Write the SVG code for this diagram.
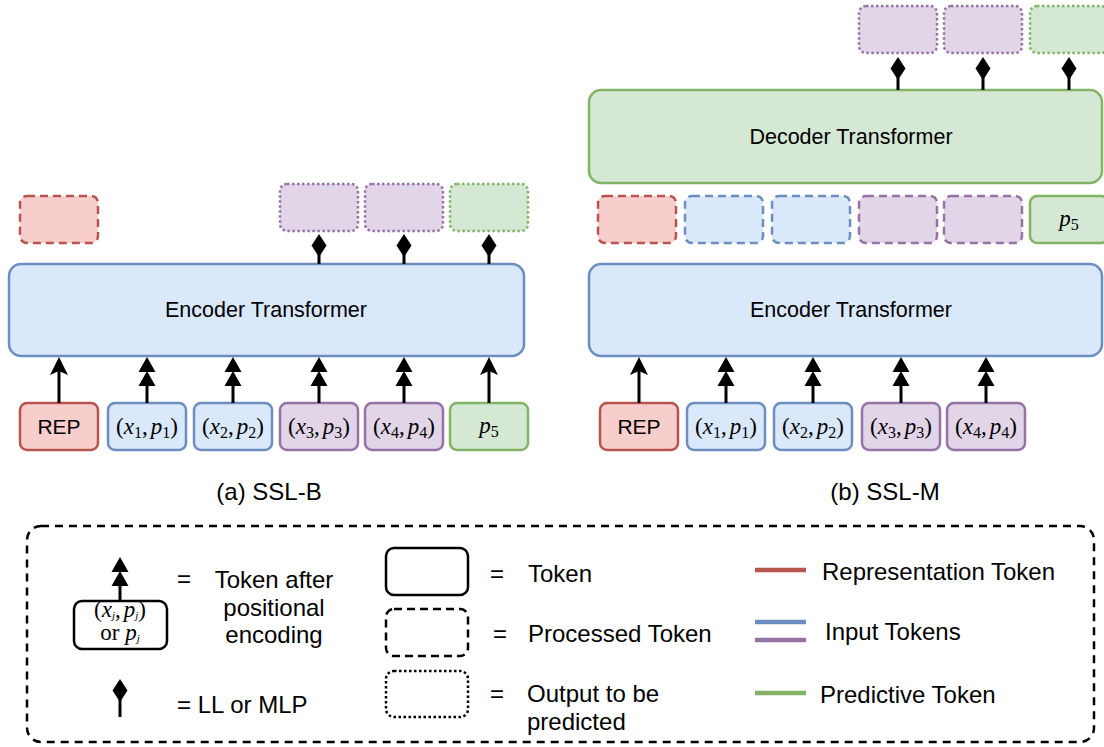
<svg xmlns="http://www.w3.org/2000/svg" width="1104" height="747" viewBox="0 0 1104 747">
  <style>
    .sans { font-family: "Liberation Sans", Arial, sans-serif; fill: #000; }
    .math { font-family: "Liberation Serif", "Times New Roman", serif; fill: #000; font-size: 23px; }
    .it { font-style: italic; }
    .sub { font-size: 16px; }
    .tok { stroke-width: 2.5; }
    .red { fill: #f8cecc; stroke: #b85450; }
    .blue { fill: #dae8fc; stroke: #6c8ebf; }
    .purple { fill: #e1d5e7; stroke: #9673a6; }
    .green { fill: #d5e8d4; stroke: #82b366; }
    .dash { stroke-dasharray: 8 5; }
    .dot { stroke-dasharray: 2.5 2.5; }
    .wire { stroke: #000; stroke-width: 3; fill: none; }
    .legendline { stroke-width: 4.5; }
  </style>
  <defs>
    <!-- single classic arrowhead, tip at origin pointing up -->
    <path id="head1" d="M0,0 L9,18 L0,14 L-9,18 Z" fill="#000"/>
    <!-- stacked double arrowhead -->
    <path id="head2" d="M0,0 L8.5,15 L-8.5,15 Z M0,14 L8.5,29 L-8.5,29 Z" fill="#000"/>
    <!-- diamond head -->
    <path id="dia" d="M0,0 L7.5,11.5 L0,23 L-7.5,11.5 Z" fill="#000"/>
  </defs>

  <!-- ===== (a) SSL-B ===== -->
  <g id="a-encoder">
    <rect x="9" y="264" width="515" height="92" rx="12" class="tok blue"/>
    <text x="266" y="317" class="sans" font-size="21.5" text-anchor="middle">Encoder Transformer</text>
  </g>
  <g id="a-rep-out"><rect x="20" y="196" width="78" height="47" rx="7" class="tok red dash"/></g>
  <g id="a-out3"><rect x="280" y="184" width="78" height="47" rx="7" class="tok purple dot"/></g>
  <g id="a-out4"><rect x="365" y="184" width="78" height="47" rx="7" class="tok purple dot"/></g>
  <g id="a-out5"><rect x="450" y="184" width="78" height="47" rx="7" class="tok green dot"/></g>

  <g id="a-rep">
    <rect x="20" y="403" width="78" height="47" rx="7" class="tok red"/>
    <text x="59" y="434" class="sans" font-size="21" text-anchor="middle">REP</text>
  </g>
  <g id="a-t1">
    <rect x="108" y="403" width="78" height="47" rx="7" class="tok blue"/>
    <text x="147" y="434" class="math" text-anchor="middle">(<tspan class="it">x</tspan><tspan class="sub" dy="4">1</tspan><tspan dy="-4">,</tspan><tspan class="it" dx="3">p</tspan><tspan class="sub" dy="4">1</tspan><tspan dy="-4">)</tspan></text>
  </g>
  <g id="a-t2">
    <rect x="194" y="403" width="78" height="47" rx="7" class="tok blue"/>
    <text x="233" y="434" class="math" text-anchor="middle">(<tspan class="it">x</tspan><tspan class="sub" dy="4">2</tspan><tspan dy="-4">,</tspan><tspan class="it" dx="3">p</tspan><tspan class="sub" dy="4">2</tspan><tspan dy="-4">)</tspan></text>
  </g>
  <g id="a-t3">
    <rect x="280" y="403" width="78" height="47" rx="7" class="tok purple"/>
    <text x="319" y="434" class="math" text-anchor="middle">(<tspan class="it">x</tspan><tspan class="sub" dy="4">3</tspan><tspan dy="-4">,</tspan><tspan class="it" dx="3">p</tspan><tspan class="sub" dy="4">3</tspan><tspan dy="-4">)</tspan></text>
  </g>
  <g id="a-t4">
    <rect x="365" y="403" width="78" height="47" rx="7" class="tok purple"/>
    <text x="404" y="434" class="math" text-anchor="middle">(<tspan class="it">x</tspan><tspan class="sub" dy="4">4</tspan><tspan dy="-4">,</tspan><tspan class="it" dx="3">p</tspan><tspan class="sub" dy="4">4</tspan><tspan dy="-4">)</tspan></text>
  </g>
  <g id="a-t5">
    <rect x="450" y="403" width="78" height="47" rx="7" class="tok green"/>
    <text x="489" y="433" class="math" text-anchor="middle"><tspan class="it">p</tspan><tspan class="sub" dy="4">5</tspan></text>
  </g>
  <text id="a-caption" x="269" y="500" class="sans" font-size="24" text-anchor="middle">(a) SSL-B</text>

  <!-- ===== (b) SSL-M ===== -->
  <g id="b-decoder">
    <rect x="589" y="90" width="513" height="93" rx="12" class="tok green"/>
    <text x="851" y="144" class="sans" font-size="21.5" text-anchor="middle">Decoder Transformer</text>
  </g>
  <g id="b-out3"><rect x="859" y="6" width="78" height="47" rx="7" class="tok purple dot"/></g>
  <g id="b-out4"><rect x="944" y="6" width="78" height="47" rx="7" class="tok purple dot"/></g>
  <g id="b-out5"><rect x="1030" y="6" width="78" height="47" rx="7" class="tok green dot"/></g>

  <g id="b-h0"><rect x="598" y="196" width="78" height="47" rx="7" class="tok red dash"/></g>
  <g id="b-h1"><rect x="685" y="196" width="78" height="47" rx="7" class="tok blue dash"/></g>
  <g id="b-h2"><rect x="772" y="196" width="78" height="47" rx="7" class="tok blue dash"/></g>
  <g id="b-h3"><rect x="859" y="196" width="78" height="47" rx="7" class="tok purple dash"/></g>
  <g id="b-h4"><rect x="944" y="196" width="78" height="47" rx="7" class="tok purple dash"/></g>
  <g id="b-p5">
    <rect x="1030" y="196" width="78" height="47" rx="7" class="tok green"/>
    <text x="1069" y="226" class="math" text-anchor="middle"><tspan class="it">p</tspan><tspan class="sub" dy="4">5</tspan></text>
  </g>

  <g id="b-encoder">
    <rect x="589" y="264" width="513" height="92" rx="12" class="tok blue"/>
    <text x="851" y="317" class="sans" font-size="21.5" text-anchor="middle">Encoder Transformer</text>
  </g>
  <g id="b-rep">
    <rect x="600" y="403" width="78" height="47" rx="7" class="tok red"/>
    <text x="639" y="434" class="sans" font-size="21" text-anchor="middle">REP</text>
  </g>
  <g id="b-t1">
    <rect x="687" y="403" width="78" height="47" rx="7" class="tok blue"/>
    <text x="726" y="434" class="math" text-anchor="middle">(<tspan class="it">x</tspan><tspan class="sub" dy="4">1</tspan><tspan dy="-4">,</tspan><tspan class="it" dx="3">p</tspan><tspan class="sub" dy="4">1</tspan><tspan dy="-4">)</tspan></text>
  </g>
  <g id="b-t2">
    <rect x="774" y="403" width="78" height="47" rx="7" class="tok blue"/>
    <text x="813" y="434" class="math" text-anchor="middle">(<tspan class="it">x</tspan><tspan class="sub" dy="4">2</tspan><tspan dy="-4">,</tspan><tspan class="it" dx="3">p</tspan><tspan class="sub" dy="4">2</tspan><tspan dy="-4">)</tspan></text>
  </g>
  <g id="b-t3">
    <rect x="862" y="403" width="78" height="47" rx="7" class="tok purple"/>
    <text x="901" y="434" class="math" text-anchor="middle">(<tspan class="it">x</tspan><tspan class="sub" dy="4">3</tspan><tspan dy="-4">,</tspan><tspan class="it" dx="3">p</tspan><tspan class="sub" dy="4">3</tspan><tspan dy="-4">)</tspan></text>
  </g>
  <g id="b-t4">
    <rect x="947" y="403" width="78" height="47" rx="7" class="tok purple"/>
    <text x="986" y="434" class="math" text-anchor="middle">(<tspan class="it">x</tspan><tspan class="sub" dy="4">4</tspan><tspan dy="-4">,</tspan><tspan class="it" dx="3">p</tspan><tspan class="sub" dy="4">4</tspan><tspan dy="-4">)</tspan></text>
  </g>
  <text id="b-caption" x="885" y="500" class="sans" font-size="24" text-anchor="middle">(b) SSL-M</text>

  <!-- ===== connectors ===== -->
  <g id="connectors">
    <!-- (a) inputs into encoder -->
    <line x1="59" y1="403" x2="59" y2="370" class="wire"/><use href="#head1" x="59" y="357"/>
    <line x1="147" y1="403" x2="147" y2="384" class="wire"/><use href="#head2" x="147" y="357"/>
    <line x1="233" y1="403" x2="233" y2="384" class="wire"/><use href="#head2" x="233" y="357"/>
    <line x1="319" y1="403" x2="319" y2="384" class="wire"/><use href="#head2" x="319" y="357"/>
    <line x1="404" y1="403" x2="404" y2="384" class="wire"/><use href="#head2" x="404" y="357"/>
    <line x1="489" y1="403" x2="489" y2="370" class="wire"/><use href="#head1" x="489" y="357"/>
    <!-- (a) prediction heads -->
    <line x1="319" y1="264" x2="319" y2="250" class="wire"/><use href="#dia" x="319" y="234"/>
    <line x1="404" y1="264" x2="404" y2="250" class="wire"/><use href="#dia" x="404" y="234"/>
    <line x1="489" y1="264" x2="489" y2="250" class="wire"/><use href="#dia" x="489" y="234"/>
    <!-- (b) inputs into encoder -->
    <line x1="639" y1="403" x2="639" y2="370" class="wire"/><use href="#head1" x="639" y="357"/>
    <line x1="726" y1="403" x2="726" y2="384" class="wire"/><use href="#head2" x="726" y="357"/>
    <line x1="813" y1="403" x2="813" y2="384" class="wire"/><use href="#head2" x="813" y="357"/>
    <line x1="901" y1="403" x2="901" y2="384" class="wire"/><use href="#head2" x="901" y="357"/>
    <line x1="986" y1="403" x2="986" y2="384" class="wire"/><use href="#head2" x="986" y="357"/>
    <!-- (b) prediction heads -->
    <line x1="898" y1="90" x2="898" y2="74" class="wire"/><use href="#dia" x="898" y="57"/>
    <line x1="983" y1="90" x2="983" y2="74" class="wire"/><use href="#dia" x="983" y="57"/>
    <line x1="1069" y1="90" x2="1069" y2="74" class="wire"/><use href="#dia" x="1069" y="57"/>
  </g>

  <!-- ===== legend ===== -->
  <g id="legend">
    <rect x="27" y="526" width="1067" height="216" rx="14" fill="none" stroke="#000" stroke-width="2.5" stroke-dasharray="8 6"/>

    <g id="legend-pos">
      <rect x="74" y="601" width="93" height="48" rx="8" fill="#fff" stroke="#000" stroke-width="2.5"/>
      <line x1="120" y1="601" x2="120" y2="584" class="wire"/>
      <use href="#head2" x="120" y="557"/>
      <text x="120" y="617" class="math" font-size="17" text-anchor="middle">(<tspan class="it">x</tspan><tspan class="it" font-size="11" dy="2">j</tspan><tspan dy="-2">,</tspan><tspan class="it" dx="3">p</tspan><tspan class="it" font-size="11" dy="2">j</tspan><tspan dy="-2">)</tspan></text>
      <text x="120" y="640" class="math" font-size="17" text-anchor="middle">or <tspan class="it">p</tspan><tspan class="it" font-size="11" dy="2">j</tspan></text>
      <text x="184" y="587" class="sans" font-size="24" text-anchor="middle">=</text>
      <text x="274" y="588" class="sans" font-size="24" text-anchor="middle">Token after</text>
      <text x="274" y="616" class="sans" font-size="24" text-anchor="middle">positional</text>
      <text x="274" y="643" class="sans" font-size="24" text-anchor="middle">encoding</text>
    </g>

    <g id="legend-head">
      <line x1="120" y1="717" x2="120" y2="696" class="wire"/>
      <use href="#dia" x="120" y="679"/>
      <text x="177" y="713" class="sans" font-size="24">= LL or MLP</text>
    </g>

    <g id="legend-token">
      <rect x="386" y="548" width="82" height="47" rx="8" fill="none" stroke="#000" stroke-width="2.5"/>
      <text x="497" y="582" class="sans" font-size="24" text-anchor="middle">=</text>
      <text x="528" y="582" class="sans" font-size="24">Token</text>
    </g>
    <g id="legend-processed">
      <rect x="386" y="609" width="82" height="47" rx="8" fill="none" stroke="#000" stroke-width="2.5" stroke-dasharray="8 5"/>
      <text x="500" y="642" class="sans" font-size="24" text-anchor="middle">=</text>
      <text x="528" y="642" class="sans" font-size="24">Processed Token</text>
    </g>
    <g id="legend-output">
      <rect x="386" y="671" width="82" height="46" rx="8" fill="none" stroke="#000" stroke-width="2.5" stroke-dasharray="2.5 2.5"/>
      <text x="497" y="702" class="sans" font-size="24" text-anchor="middle">=</text>
      <text x="527" y="702" class="sans" font-size="24">Output to be</text>
      <text x="527" y="730" class="sans" font-size="24">predicted</text>
    </g>

    <g id="legend-colours">
      <line x1="755" y1="570" x2="806" y2="570" stroke="#b85450" class="legendline"/>
      <text x="822" y="580" class="sans" font-size="24">Representation Token</text>
      <line x1="755" y1="622" x2="806" y2="622" stroke="#6c8ebf" class="legendline"/>
      <line x1="755" y1="640" x2="806" y2="640" stroke="#9673a6" class="legendline"/>
      <text x="825" y="640" class="sans" font-size="24">Input Tokens</text>
      <line x1="755" y1="693" x2="806" y2="693" stroke="#82b366" class="legendline"/>
      <text x="820" y="703" class="sans" font-size="24">Predictive Token</text>
    </g>
  </g>
</svg>
